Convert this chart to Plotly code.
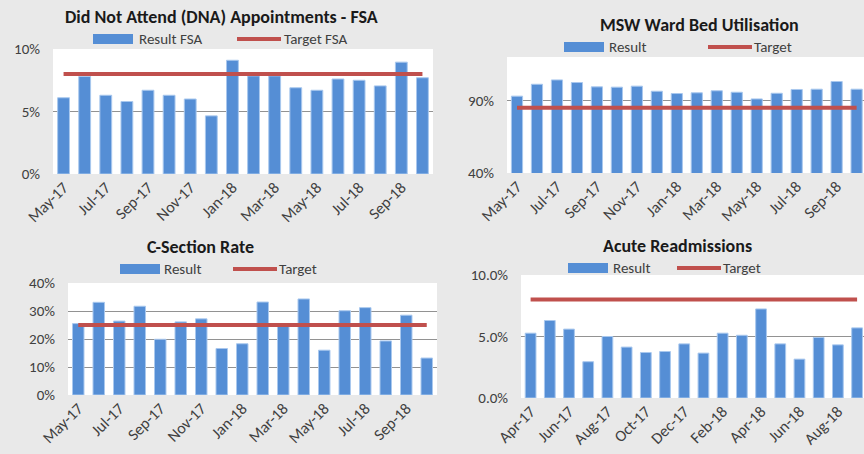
import plotly.graph_objects as go

# ---------------- data ----------------
months_a = ["May-17", "Jun-17", "Jul-17", "Aug-17", "Sep-17", "Oct-17", "Nov-17", "Dec-17",
            "Jan-18", "Feb-18", "Mar-18", "Apr-18", "May-18", "Jun-18", "Jul-18", "Aug-18",
            "Sep-18", "Oct-18"]
months_b = ["Apr-17", "May-17", "Jun-17", "Jul-17", "Aug-17", "Sep-17", "Oct-17", "Nov-17",
            "Dec-17", "Jan-18", "Feb-18", "Mar-18", "Apr-18", "May-18", "Jun-18", "Jul-18",
            "Aug-18", "Sep-18"]

dna_result = [6.1, 7.8, 6.3, 5.8, 6.7, 6.3, 6.0, 4.65, 9.1, 7.85, 7.85, 6.9, 6.7, 7.6, 7.5, 7.05, 8.95, 7.7]
dna_target = [8, 8, 8, 8, 8, 8, 8, 8, 8, 8, 8, 8, 8, 8, 8, 8, 8, 8]

bed_result = [93.0, 101.2, 104.2, 102.4, 99.4, 99.2, 99.9, 96.4, 94.8, 95.3, 96.7, 95.7, 91.1, 95.0, 97.6, 97.8, 103.1, 97.8]
bed_target = [85, 85, 85, 85, 85, 85, 85, 85, 85, 85, 85, 85, 85, 85, 85, 85, 85, 85]

cs_result = [25.5, 33.1, 26.4, 31.7, 19.9, 26.1, 27.2, 16.6, 18.3, 33.2, 24.6, 34.3, 16.0, 30.1, 31.2, 19.3, 28.5, 13.2]
cs_target = [25, 25, 25, 25, 25, 25, 25, 25, 25, 25, 25, 25, 25, 25, 25, 25, 25, 25]

ar_result = [5.27, 6.3, 5.6, 2.95, 5.0, 4.14, 3.7, 3.78, 4.4, 3.65, 5.27, 5.1, 7.24, 4.4, 3.16, 4.92, 4.32, 5.7]
ar_target = [8, 8, 8, 8, 8, 8, 8, 8, 8, 8, 8, 8, 8, 8, 8, 8, 8, 8]

titles = ["Did Not Attend (DNA) Appointments - FSA", "MSW Ward Bed Utilisation",
          "C-Section Rate", "Acute Readmissions"]
result_names = ["Result FSA", "Result", "Result", "Result"]
target_names = ["Target FSA", "Target", "Target", "Target"]

# ---------------- style ----------------
W, H = 864, 454
BG = "#e9e9e9"
BAR = "#558ed5"
RED = "#c0504d"
GRID = "#929292"
TXT = "#404040"
FONT = "Carlito, Calibri, Lato, sans-serif"


def px(x):
    return x / W


def py(y):
    return 1 - y / H


panels = [
    dict(cats=months_a, res=dna_result, tgt=dna_target, x0=53, x1=433, y0=49, y1=174,
         xr=[-0.5, 17.5], yr=[0, 10], dtick=5, tick0=0, fmt=".0f",
         title_xy=(222, 17), leg=(93, 138, 237, 283, 39)),
    dict(cats=months_a, res=bed_result, tgt=bed_target, x0=507, x1=864, y0=57, y1=173,
         xr=[-0.5, 17.37], yr=[40, 120], dtick=50, tick0=40, fmt=".0f",
         title_xy=(699, 25), leg=(564, 608, 708, 753, 47)),
    dict(cats=months_a, res=cs_result, tgt=cs_target, x0=68, x1=437, y0=283, y1=395,
         xr=[-0.5, 17.5], yr=[0, 40], dtick=10, tick0=0, fmt=".0f",
         title_xy=(200, 247), leg=(120, 163, 233, 278, 269)),
    dict(cats=months_b, res=ar_result, tgt=ar_target, x0=521, x1=864, y0=275, y1=398,
         xr=[-0.5, 17.36], yr=[0, 10], dtick=5, tick0=0, fmt=".1f",
         title_xy=(677, 246), leg=(568, 612, 677, 722, 268)),
]

fig = go.Figure()
shapes = []
annotations = []

for i, p in enumerate(panels):
    n = "" if i == 0 else str(i + 1)
    xa, ya = "x" + n, "y" + n
    fig.add_trace(go.Bar(x=p["cats"], y=p["res"], name=result_names[i], xaxis=xa, yaxis=ya,
                         marker=dict(color=BAR, line=dict(color="#a9c8ee", width=1)),
                         showlegend=False))
    fig.add_trace(go.Scatter(x=p["cats"], y=p["tgt"], name=target_names[i], xaxis=xa, yaxis=ya,
                             mode="lines", line=dict(color=RED, width=4), showlegend=False))
    fig.layout["xaxis" + n] = dict(
        domain=[px(p["x0"]), px(p["x1"])], anchor=ya, type="category", automargin=False,
        range=p["xr"], tickmode="array", tickvals=p["cats"][::2], ticktext=p["cats"][::2],
        tickangle=-45, tickfont=dict(family=FONT, size=16, color=TXT),
        showgrid=False, showline=False, ticks="", zeroline=False,
    )
    fig.layout["yaxis" + n] = dict(
        domain=[py(p["y1"]), py(p["y0"])], anchor=xa, range=p["yr"], automargin=False,
        tick0=p["tick0"], dtick=p["dtick"], tickformat=p["fmt"], ticksuffix="%",
        showgrid=True, gridcolor=GRID, gridwidth=1, zeroline=False, showline=False,
        ticks="", ticklabelstandoff=12, tickfont=dict(family=FONT, size=15, color=TXT),
    )
    # title
    tx, ty = p["title_xy"]
    annotations.append(dict(text="<b>" + titles[i] + "</b>", x=px(tx), y=py(ty), xref="paper", yref="paper",
                            xanchor="center", yanchor="middle", showarrow=False, borderpad=0,
                            font=dict(family=FONT, size=18, color="#1a1a1a")))
    # legend
    bx, btx, lx, ltx, ly = p["leg"]
    shapes.append(dict(type="rect", xref="paper", yref="paper", x0=px(bx), x1=px(bx + 40),
                       y0=py(ly + 5), y1=py(ly - 5), fillcolor=BAR, line=dict(width=0)))
    shapes.append(dict(type="line", xref="paper", yref="paper", x0=px(lx), x1=px(lx + 44),
                       y0=py(ly), y1=py(ly), line=dict(color=RED, width=4)))
    annotations.append(dict(text=result_names[i], x=px(btx), y=py(ly), xref="paper", yref="paper",
                            xanchor="left", yanchor="middle", showarrow=False, borderpad=0,
                            font=dict(family=FONT, size=15, color=TXT)))
    annotations.append(dict(text=target_names[i], x=px(ltx), y=py(ly), xref="paper", yref="paper",
                            xanchor="left", yanchor="middle", showarrow=False, borderpad=0,
                            font=dict(family=FONT, size=15, color=TXT)))

fig.update_layout(
    width=W, height=H, margin=dict(l=0, r=0, t=0, b=0),
    paper_bgcolor=BG, plot_bgcolor="white", bargap=0.44,
    shapes=shapes, annotations=annotations, showlegend=False,
    font=dict(family=FONT, color=TXT),
)

fig.write_html("out.html", config={"displayModeBar": False},
               post_script="document.body.style.margin='0';document.body.style.overflow='hidden';")
